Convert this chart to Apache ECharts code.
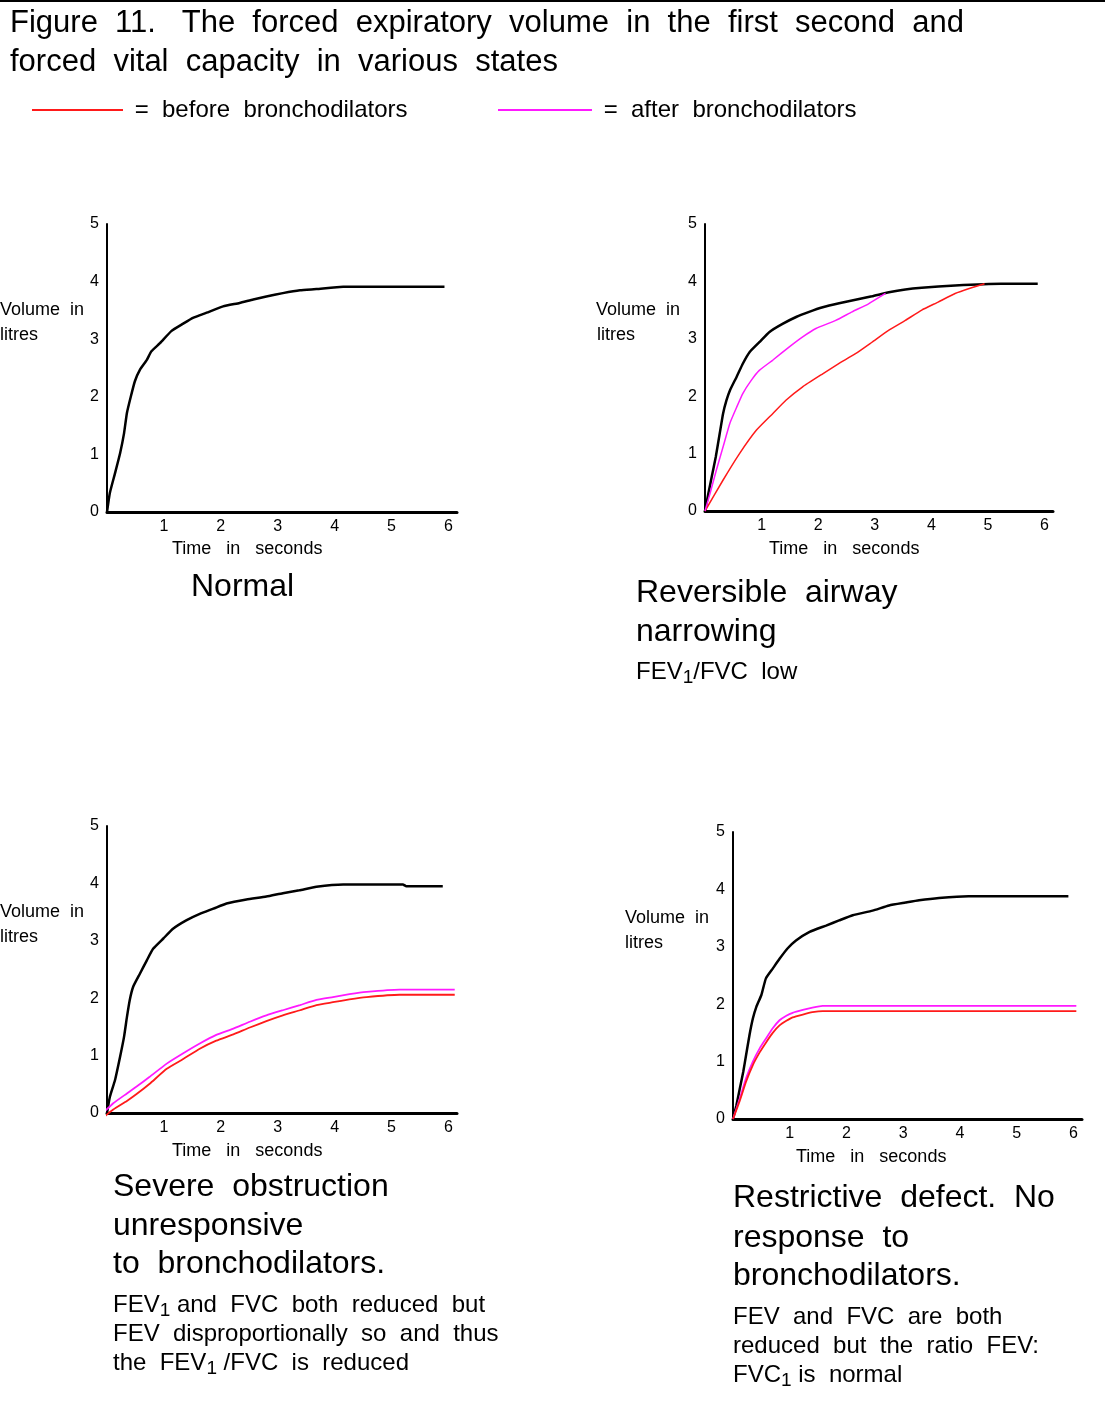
<!DOCTYPE html>
<html>
<head>
<meta charset="utf-8">
<script src="https://cdn.jsdelivr.net/npm/echarts@6/dist/echarts.min.js"></script>
<style>
  html, body { margin: 0; padding: 0; background: #fff; }
  #chart { width: 1105px; height: 1404px; }
</style>
</head>
<body>
<div id="chart"></div>
<script>
// axis ticks
const xTicks = [0, 1, 2, 3, 4, 5, 6];
const yTicks = [0, 1, 2, 3, 4, 5];
const xMax = 6.15;

// Normal
const normalTime = [0, 0.05, 0.14, 0.23, 0.3, 0.35, 0.42, 0.49, 0.58, 0.7, 0.78, 0.93, 1.13, 1.34, 1.51, 1.75, 2.04, 2.33, 2.57, 2.8, 3.09, 3.39, 3.68, 4.15, 5.93];
const normalVol = [0, 0.33, 0.67, 1.02, 1.37, 1.72, 2.01, 2.27, 2.47, 2.64, 2.79, 2.93, 3.14, 3.27, 3.37, 3.46, 3.57, 3.63, 3.69, 3.74, 3.8, 3.85, 3.87, 3.91, 3.91];

// Reversible airway narrowing
const revNormalTime = [0, 0.06, 0.12, 0.19, 0.26, 0.32, 0.38, 0.44, 0.56, 0.67, 0.79, 0.96, 1.14, 1.37, 1.61, 1.84, 2.08, 2.37, 2.66, 2.95, 3.25, 3.54, 3.83, 4.42, 5.23, 5.88];
const revNormalVol = [0, 0.31, 0.6, 0.94, 1.35, 1.7, 1.93, 2.1, 2.34, 2.57, 2.77, 2.94, 3.12, 3.26, 3.38, 3.47, 3.55, 3.62, 3.68, 3.74, 3.81, 3.86, 3.89, 3.93, 3.96, 3.96];
const revAfterTime = [0, 0.09, 0.2, 0.32, 0.44, 0.56, 0.67, 0.82, 0.96, 1.2, 1.49, 1.72, 1.96, 2.31, 2.6, 2.89, 3.19];
const revAfterVol = [0, 0.31, 0.71, 1.12, 1.53, 1.81, 2.05, 2.28, 2.45, 2.63, 2.86, 3.03, 3.18, 3.32, 3.47, 3.61, 3.79];
const revBeforeTime = [0, 0.32, 0.61, 0.91, 1.2, 1.43, 1.72, 2.08, 2.37, 2.66, 2.95, 3.25, 3.54, 3.83, 4.12, 4.42, 4.71, 4.94];
const revBeforeVol = [0, 0.54, 1.0, 1.41, 1.7, 1.93, 2.16, 2.39, 2.57, 2.74, 2.94, 3.15, 3.32, 3.5, 3.64, 3.79, 3.89, 3.96];

// Severe obstruction
const sevNormalTime = [0, 0.05, 0.14, 0.23, 0.3, 0.35, 0.4, 0.46, 0.58, 0.7, 0.81, 0.99, 1.16, 1.4, 1.63, 1.87, 2.1, 2.45, 2.8, 3.09, 3.38, 3.68, 4.15, 5.2, 5.26, 5.9];
const sevNormalVol = [0, 0.28, 0.57, 0.98, 1.33, 1.67, 1.97, 2.2, 2.43, 2.66, 2.86, 3.04, 3.21, 3.36, 3.47, 3.56, 3.65, 3.72, 3.77, 3.83, 3.88, 3.94, 3.98, 3.98, 3.95, 3.95];
const sevAfterTime = [-0.09, 0.11, 0.35, 0.52, 0.75, 1.05, 1.34, 1.63, 1.92, 2.22, 2.51, 2.8, 3.09, 3.39, 3.68, 3.97, 4.26, 4.56, 5.14, 6.11];
const sevAfterVol = [-0.02, 0.17, 0.34, 0.46, 0.63, 0.86, 1.04, 1.21, 1.36, 1.47, 1.59, 1.7, 1.79, 1.88, 1.97, 2.02, 2.07, 2.11, 2.15, 2.15];
const sevBeforeTime = [-0.09, 0.11, 0.35, 0.52, 0.75, 1.05, 1.34, 1.63, 1.92, 2.22, 2.51, 2.8, 3.09, 3.39, 3.68, 3.97, 4.26, 4.56, 5.14, 6.11];
const sevBeforeVol = [-0.1, 0.06, 0.21, 0.33, 0.51, 0.77, 0.94, 1.12, 1.26, 1.37, 1.49, 1.6, 1.7, 1.79, 1.88, 1.93, 1.98, 2.02, 2.06, 2.06];

// Restrictive defect
const resNormalTime = [0, 0.06, 0.12, 0.18, 0.23, 0.29, 0.35, 0.41, 0.5, 0.58, 0.7, 0.82, 0.96, 1.11, 1.35, 1.64, 1.87, 2.11, 2.46, 2.75, 3.04, 3.28, 3.63, 4.15, 5.91];
const resNormalVol = [0, 0.24, 0.53, 0.82, 1.11, 1.46, 1.75, 1.95, 2.16, 2.45, 2.62, 2.79, 2.97, 3.11, 3.26, 3.37, 3.46, 3.55, 3.63, 3.72, 3.77, 3.81, 3.85, 3.88, 3.88];
const resAfterTime = [0, 0.12, 0.23, 0.35, 0.47, 0.58, 0.7, 0.82, 0.94, 1.05, 1.23, 1.4, 1.58, 6.05];
const resAfterVol = [0, 0.36, 0.71, 1.0, 1.23, 1.4, 1.58, 1.72, 1.8, 1.85, 1.9, 1.94, 1.97, 1.97];
const resBeforeTime = [0, 0.12, 0.23, 0.35, 0.47, 0.58, 0.7, 0.82, 0.94, 1.05, 1.23, 1.4, 1.58, 6.05];
const resBeforeVol = [0, 0.32, 0.65, 0.94, 1.16, 1.33, 1.5, 1.63, 1.71, 1.77, 1.82, 1.86, 1.88, 1.88];

const FONT = '"Liberation Sans", Arial, sans-serif';
const RED = '#ff1a1a';
const MAGENTA = '#ff19ff';

function pairs(t, v) {
  return t.map(function (x, i) { return [x, v[i]]; });
}

// grids: left, top, width, height
const grids = [
  { left: 107, top: 224, width: 350, height: 288 },
  { left: 705, top: 224, width: 348, height: 287 },
  { left: 107, top: 826, width: 350, height: 287 },
  { left: 733, top: 832, width: 349, height: 287 }
];

const xAxes = grids.map(function (g, i) {
  return {
    gridIndex: i, type: 'value', min: xTicks[0], max: xMax, interval: 1,
    axisLine: { lineStyle: { color: '#000', width: 3 } },
    axisTick: { show: false }, splitLine: { show: false },
    axisLabel: {
      color: '#000', fontSize: 16, fontFamily: FONT, margin: 7,
      formatter: function (v) { return (xTicks.indexOf(v) > 0) ? String(v) : ''; }
    }
  };
});
const yAxes = grids.map(function (g, i) {
  return {
    gridIndex: i, type: 'value', min: yTicks[0], max: yTicks[yTicks.length - 1], interval: 1,
    axisLine: { show: true, lineStyle: { color: '#000', width: 2 } },
    axisTick: { show: false }, splitLine: { show: false },
    axisLabel: { color: '#000', fontSize: 16, fontFamily: FONT, margin: 8 }
  };
});

function line(name, idx, t, v, color, width) {
  return {
    name: name, type: 'line', xAxisIndex: idx, yAxisIndex: idx,
    data: pairs(t, v), showSymbol: false, clip: false,
    smooth: 0.15, color: color,
    lineStyle: { color: color, width: width }, animation: false
  };
}

const series = [
  line('normal', 0, normalTime, normalVol, '#000', 2.5),
  line('normal', 1, revNormalTime, revNormalVol, '#000', 2.5),
  line('before bronchodilators', 1, revBeforeTime, revBeforeVol, RED, 1.5),
  line('after bronchodilators', 1, revAfterTime, revAfterVol, MAGENTA, 1.5),
  line('normal', 2, sevNormalTime, sevNormalVol, '#000', 2.5),
  line('after bronchodilators', 2, sevAfterTime, sevAfterVol, MAGENTA, 1.8),
  line('before bronchodilators', 2, sevBeforeTime, sevBeforeVol, RED, 1.8),
  line('normal', 3, resNormalTime, resNormalVol, '#000', 2.5),
  line('after bronchodilators', 3, resAfterTime, resAfterVol, MAGENTA, 1.8),
  line('before bronchodilators', 3, resBeforeTime, resBeforeVol, RED, 1.8)
];

function txt(x, y, text, size, rich) {
  const style = { x: x, y: y, text: text, fill: '#000', font: size + 'px ' + FONT, verticalAlign: 'middle' };
  if (rich) {
    style.rich = {
      s: { fontSize: Math.round(size * 0.8), fontFamily: FONT, padding: [Math.round(size * 0.45), 0, 0, 0] }
    };
  }
  return { type: 'text', style: style, silent: true };
}

const texts = [
  txt(10, 23, 'Figure  11.   The  forced  expiratory  volume  in  the  first  second  and', 31),
  txt(10, 62, 'forced  vital  capacity  in  various  states', 31),
  // axis titles
  txt(0, 310, 'Volume  in', 18), txt(0, 335, 'litres', 18),
  txt(596, 310, 'Volume  in', 18), txt(597, 335, 'litres', 18),
  txt(0, 912, 'Volume  in', 18), txt(0, 937, 'litres', 18),
  txt(625, 918, 'Volume  in', 18), txt(625, 943, 'litres', 18),
  txt(172, 549, 'Time   in   seconds', 18),
  txt(769, 549, 'Time   in   seconds', 18),
  txt(172, 1151, 'Time   in   seconds', 18),
  txt(796, 1157, 'Time   in   seconds', 18),
  // captions
  txt(191, 587, 'Normal', 32),
  txt(636, 593, 'Reversible  airway', 32),
  txt(636, 632, 'narrowing', 32),
  txt(636, 672, 'FEV{s|1}/FVC  low', 24, true),
  txt(113, 1187, 'Severe  obstruction', 32),
  txt(113, 1226, 'unresponsive', 32),
  txt(113, 1264, 'to  bronchodilators.', 32),
  txt(113, 1305, 'FEV{s|1} and  FVC  both  reduced  but', 24, true),
  txt(113, 1334, 'FEV  disproportionally  so  and  thus', 24),
  txt(113, 1363, 'the  FEV{s|1} /FVC  is  reduced', 24, true),
  txt(733, 1198, 'Restrictive  defect.  No', 32),
  txt(733, 1238, 'response  to', 32),
  txt(733, 1276, 'bronchodilators.', 32),
  txt(733, 1317, 'FEV  and  FVC  are  both', 24),
  txt(733, 1346, 'reduced  but  the  ratio  FEV:', 24),
  txt(733, 1375, 'FVC{s|1} is  normal', 24, true)
];

const chart = echarts.init(document.getElementById('chart'));
chart.setOption({
  backgroundColor: '#fff',
  animation: false,
  legend: [
    {
      data: ['before bronchodilators'], left: 32, top: 98, padding: 0,
      icon: 'rect', itemWidth: 91, itemHeight: 2,
      textStyle: { color: '#000', fontSize: 24, fontFamily: FONT },
      formatter: function (name) { return ' =  ' + name.replace(' ', '  '); }
    },
    {
      data: ['after bronchodilators'], left: 498, top: 98, padding: 0,
      icon: 'rect', itemWidth: 94, itemHeight: 2,
      textStyle: { color: '#000', fontSize: 24, fontFamily: FONT },
      formatter: function (name) { return ' =  ' + name.replace(' ', '  '); }
    }
  ],
  grid: grids,
  xAxis: xAxes,
  yAxis: yAxes,
  series: series,
  graphic: [
    { type: 'rect', shape: { x: 0, y: 0, width: 1105, height: 2 }, style: { fill: '#000' }, silent: true }
  ].concat(texts)
});
</script>
</body>
</html>
